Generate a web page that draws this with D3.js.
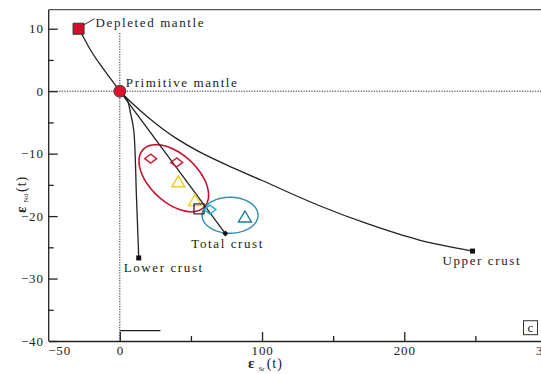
<!DOCTYPE html>
<html>
<head>
<meta charset="utf-8">
<script src="https://cdn.jsdelivr.net/npm/d3@7"></script>
<style>
  body { margin: 0; background: #fff; }
  svg { display: block; }
  text { font-family: "Liberation Serif", "Times New Roman", serif; fill: #222; }
  .lbl { font-size: 13px; letter-spacing: 1.6px; }
  .tick text { font-size: 13px; letter-spacing: 0.8px; font-family: "Liberation Serif", serif; fill: #222; }
</style>
</head>
<body>
<svg id="chart" width="541" height="374"></svg>
<script>
// end members (eSr, eNd)
var depletedMantle = [-29, 10]
var primitiveMantle = [0, 0]
var lowerCrust = [13.3, -26.7]
var totalCrust = [74.2, -22.8]
var upperCrust = [248, -25.6]

// mixing curves
var dmCurve = [[-29, 10], [-26.4, 9.0], [-20.6, 6.6], [-13.6, 4.2], [-6.5, 2.0], [0, 0]]
var lowerCurve = [[0, 0], [5.2, -1.4], [7.5, -3.5], [9.8, -6.3], [11.7, -16.9], [13.3, -26.7]]
var totalCurve = [[0, 0], [74.2, -22.8]]
var upperCurve = [[0, 0], [10, -2.2], [20, -4.2], [30, -6.0], [40, -7.6], [55, -9.6], [75, -11.8],
    [100, -14.3], [140, -18.3], [175, -21.3], [210, -23.8], [248, -25.6]]
var baseSeg = [[0, -38.35], [28.6, -38.35]]

// samples
var redDiamonds = [[21.7, -10.8], [40.0, -11.4]]
var yellowTriangles = [[41.1, -14.6], [52.9, -17.6]]
var blackSquares = [[55.7, -18.85]]
var cyanDiamonds = [[63.4, -18.96]]
var tealTriangles = [[88.0, -20.24]]

// ellipses: centre, semi-axis vectors in data units
var redEllipse = { c: [37.96, -13.93], u: [21.6, -4.58], v: [-11.5, -2.8] }
var tealEllipse = { c: [77.5, -19.86], u: [19.7, 0], v: [0, -2.88] }

var xMajor = [-50, 0, 100, 200, 300]
var xMinor = [50, 150, 250]
var yMajor = [10, 0, -10, -20, -30, -40]
var yMinor = [5, -5, -15, -25, -35]

var svg = d3.select("#chart")
var x = d3.scaleLinear().domain([-50, 300]).range([48.7, 546.5])
var y = d3.scaleLinear().domain([-40, 13]).range([341, 10])

var line = d3.line().x(function (d) { return x(d[0]) }).y(function (d) { return y(d[1]) })
var smooth = d3.line().x(function (d) { return x(d[0]) }).y(function (d) { return y(d[1]) }).curve(d3.curveCatmullRom.alpha(0.5))

// dotted reference lines
svg.append("line").attr("x1", x(-50)).attr("x2", 541).attr("y1", y(0)).attr("y2", y(0))
    .attr("stroke", "#333").attr("stroke-width", 1).attr("stroke-dasharray", "1.3,1.3")
svg.append("line").attr("x1", x(0)).attr("x2", x(0)).attr("y1", y(9.3)).attr("y2", y(-40))
    .attr("stroke", "#333").attr("stroke-width", 1).attr("stroke-dasharray", "1.3,1.3")
svg.append("path").attr("d", line(baseSeg)).attr("stroke", "#222").attr("stroke-width", 1.2).attr("fill", "none")

// axes
var ax = svg.append("g").attr("transform", "translate(0," + y(-40) + ")")
ax.call(d3.axisBottom(x).tickValues(xMajor).tickSizeInner(-9).tickSizeOuter(0).tickPadding(3).tickFormat(d3.format("d")))
ax.selectAll(".tick text").attr("dy", "0.85em")
ax.selectAll(".tick").filter(function (d) { return d == -50 }).select("text").attr("text-anchor", "start").attr("x", -1)
ax.selectAll(".tick").filter(function (d) { return d == -50 }).select("line").remove()
svg.append("g").attr("transform", "translate(0," + y(-40) + ")")
    .call(d3.axisBottom(x).tickValues(xMinor).tickSizeInner(-5).tickSizeOuter(0).tickFormat(""))
    .select(".domain").remove()

var ay = svg.append("g").attr("transform", "translate(" + x(-50) + ",0)")
ay.call(d3.axisLeft(y).tickValues(yMajor).tickSizeInner(-9).tickSizeOuter(0).tickPadding(5).tickFormat(d3.format("d")))
ay.select(".domain").attr("d", "M0," + y(13.05) + "V" + y(-40))
svg.append("g").attr("transform", "translate(" + x(-50) + ",0)")
    .call(d3.axisLeft(y).tickValues(yMinor).tickSizeInner(-5).tickSizeOuter(0).tickFormat(""))
    .select(".domain").remove()
svg.selectAll(".domain, .tick line").attr("stroke", "#222").attr("stroke-width", 1.3)
// top frame
svg.append("line").attr("x1", x(-50)).attr("x2", 541).attr("y1", y(13.05)).attr("y2", y(13.05))
    .attr("stroke", "#555").attr("stroke-width", 1.2)

// axis titles
var xt = svg.append("text").attr("x", 248).attr("y", 368)
xt.append("tspan").text("ε").style("font-size", "15px").style("font-weight", "bold")
xt.append("tspan").text("Sr").style("font-size", "7px").attr("dx", 4).attr("dy", 2.5)
xt.append("tspan").text("(t)").style("font-size", "14px").attr("dx", 2).attr("dy", -2.5).style("letter-spacing", "1px")

var yt = svg.append("text").attr("transform", "translate(25.5,213) rotate(-90)")
yt.append("tspan").text("ε").style("font-size", "15px").style("font-weight", "bold")
yt.append("tspan").text("Nd").style("font-size", "7px").attr("dx", 4).attr("dy", 2.5)
yt.append("tspan").text("(t)").style("font-size", "14px").attr("dx", 2).attr("dy", -2.5).style("letter-spacing", "1px")

// ellipses
function ellipsePts(e) {
    return d3.range(0, 361, 4).map(function (a) {
        var t = a * Math.PI / 180
        return [e.c[0] + e.u[0] * Math.cos(t) + e.v[0] * Math.sin(t),
                e.c[1] + e.u[1] * Math.cos(t) + e.v[1] * Math.sin(t)]
    })
}
svg.append("path").attr("d", line(ellipsePts(redEllipse)))
    .attr("fill", "none").attr("stroke", "#c8102e").attr("stroke-width", 1.6)
svg.append("path").attr("d", line(ellipsePts(tealEllipse)))
    .attr("fill", "none").attr("stroke", "#2b8cae").attr("stroke-width", 1.4)

// curves
;[dmCurve, lowerCurve, totalCurve, upperCurve].forEach(function (c) {
    svg.append("path").attr("d", smooth(c)).attr("fill", "none").attr("stroke", "#222").attr("stroke-width", 1.3)
})

// sample markers
function diamond(w, h) { return "M0," + (-h / 2) + "L" + (w / 2) + ",0L0," + (h / 2) + "L" + (-w / 2) + ",0Z" }
function triangle(w, h) { return "M0," + (-h * 0.6) + "L" + (w / 2) + "," + (h * 0.4) + "L" + (-w / 2) + "," + (h * 0.4) + "Z" }
function square(s) { return "M" + (-s / 2) + "," + (-s / 2) + "h" + s + "v" + s + "h" + (-s) + "Z" }

function drawMarks(data, shape, stroke) {
    svg.append("g").selectAll("path").data(data).enter().append("path")
        .attr("transform", function (d) { return "translate(" + x(d[0]) + "," + y(d[1]) + ")" })
        .attr("d", shape).attr("fill", "none").attr("stroke", stroke).attr("stroke-width", 1.4)
}
drawMarks(redDiamonds, diamond(12, 9), "#cc1f3a")
drawMarks(yellowTriangles, triangle(13, 11), "#f2cc1c")
drawMarks(blackSquares, square(10), "#333")
drawMarks(cyanDiamonds, diamond(12, 9), "#1fb3cc")
drawMarks(tealTriangles, triangle(13, 11), "#1b7f95")

// end-member markers
svg.append("line").attr("x1", x(depletedMantle[0]) + 5.5).attr("y1", y(depletedMantle[1]) - 4)
    .attr("x2", x(depletedMantle[0]) + 16).attr("y2", y(depletedMantle[1]) - 10)
    .attr("stroke", "#333").attr("stroke-width", 1)
svg.append("path").attr("transform", "translate(" + x(depletedMantle[0]) + "," + y(depletedMantle[1]) + ")")
    .attr("d", square(11)).attr("fill", "#d0102a").attr("stroke", "#333").attr("stroke-width", 1)
svg.append("circle").attr("cx", x(primitiveMantle[0])).attr("cy", y(primitiveMantle[1])).attr("r", 6)
    .attr("fill", "#e0102a").attr("stroke", "#444").attr("stroke-width", 1)
;[lowerCrust, upperCrust].forEach(function (p) {
    svg.append("path").attr("transform", "translate(" + x(p[0]) + "," + y(p[1]) + ")").attr("d", square(5)).attr("fill", "#111")
})
svg.append("path").attr("transform", "translate(" + x(totalCrust[0]) + "," + y(totalCrust[1]) + ")")
    .attr("d", diamond(6, 6)).attr("fill", "#111")

// labels
function label(p, dx, dy, txt) {
    svg.append("text").attr("class", "lbl").attr("x", x(p[0]) + dx).attr("y", y(p[1]) + dy).text(txt)
}
label(depletedMantle, 17, -1.5, "Depleted mantle")
label(primitiveMantle, 6, -4, "Primitive mantle")
label(lowerCrust, -15, 14.5, "Lower crust")
label(totalCrust, -34, 14.7, "Total crust")
label(upperCrust, -30, 14, "Upper crust")

// panel tag
svg.append("rect").attr("x", 523.5).attr("y", 320.7).attr("width", 14).attr("height", 14)
    .attr("fill", "none").attr("stroke", "#333").attr("stroke-width", 1)
svg.append("text").attr("x", 530.5).attr("y", 332).attr("text-anchor", "middle").style("font-size", "13px").text("c")
</script>
</body>
</html>
